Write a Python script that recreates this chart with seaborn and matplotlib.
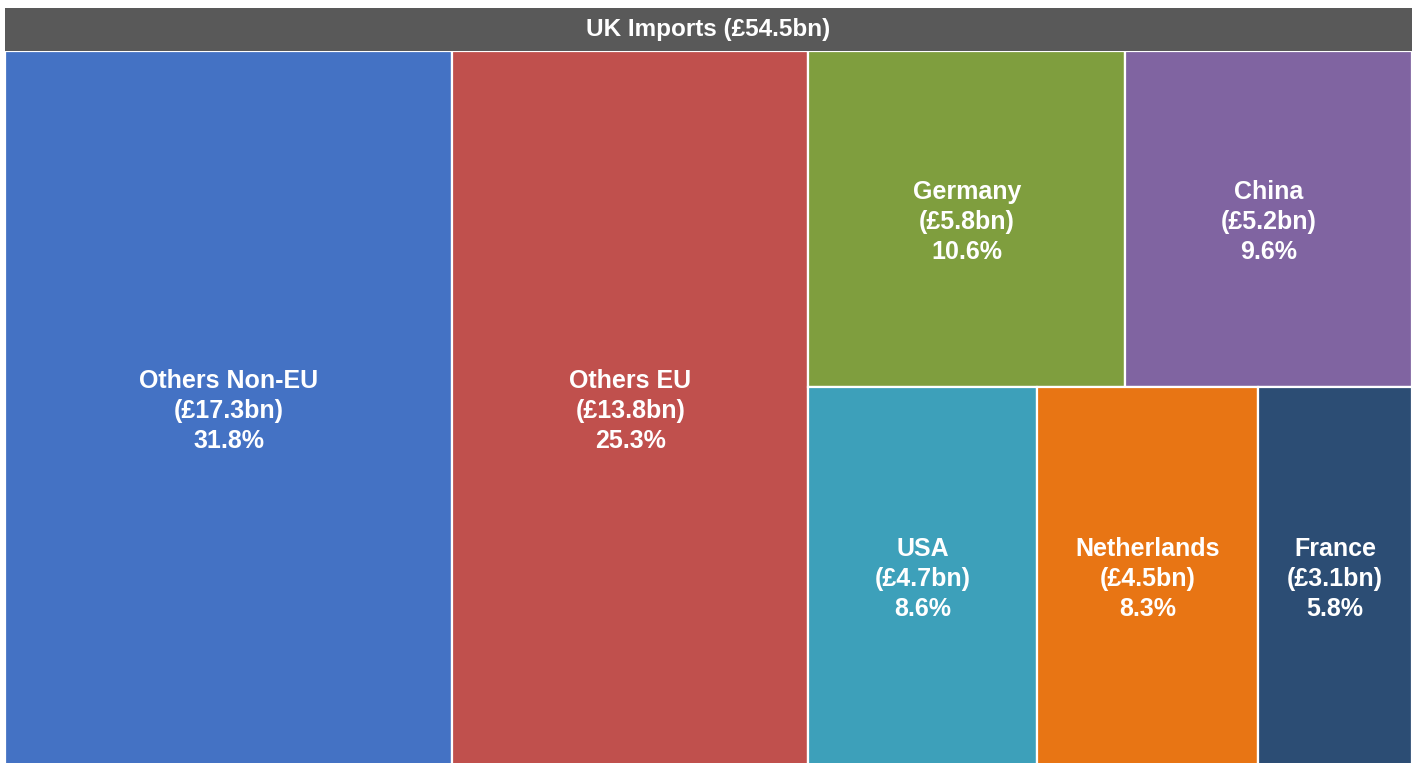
import matplotlib.pyplot as plt
from matplotlib.patches import Rectangle
import seaborn as sns

# Data
countries = ["Others Non-EU", "Others EU", "Germany", "China", "USA", "Netherlands", "France"]
values_bn = ["17.3", "13.8", "5.8", "5.2", "4.7", "4.5", "3.1"]
shares = [31.8, 25.3, 10.6, 9.6, 8.6, 8.3, 5.8]
total_label = "UK Imports (£54.5bn)"
colors = ["#4472C4", "#C0504D", "#7F9E3E", "#8064A1", "#3DA0BA", "#E87514", "#2C4D74"]

# treemap grouping: columns, then rows inside the last column
groups = [[[0]], [[1]], [[2, 3], [4, 5, 6]]]

sns.set_style("white")
plt.rcParams["font.family"] = ["Liberation Sans", "DejaVu Sans"]

fig = plt.figure(figsize=(14.16, 7.63), dpi=100)
W, H = 1416, 763
head = 43 / 714
ax = fig.add_axes([5 / W, -2 / H, 1407 / W, 757 / H])
ax.set_xlim(0, 1)
ax.set_ylim(0, 1 + head)
ax.axis("off")

total = sum(shares)
x = 0.0
for col in groups:
    col_total = sum(shares[i] for rows in col for i in rows)
    w = col_total / total
    y = 1.0
    for rows in col:
        row_total = sum(shares[i] for i in rows)
        h = row_total / col_total
        xx = x
        for i in rows:
            ww = w * shares[i] / row_total
            ax.add_patch(Rectangle((xx, y - h), ww, h, facecolor=colors[i],
                                   edgecolor="white", linewidth=1.6))
            ax.text(xx + ww / 2, y - h / 2 - 0.004,
                    f"{countries[i]}\n(£{values_bn[i]}bn)\n{shares[i]:.1f}%",
                    ha="center", va="center", color="white", fontsize=18,
                    fontweight="bold", linespacing=1.3)
            xx += ww
        y -= h
    x += w

# header bar
ax.add_patch(Rectangle((0, 1), 1, head, facecolor="#595959", edgecolor="none"))
ax.text(0.5, 1 + head / 2, total_label, ha="center", va="center",
        color="white", fontsize=17.5, fontweight="bold")

fig.savefig("out.png", dpi=100)
